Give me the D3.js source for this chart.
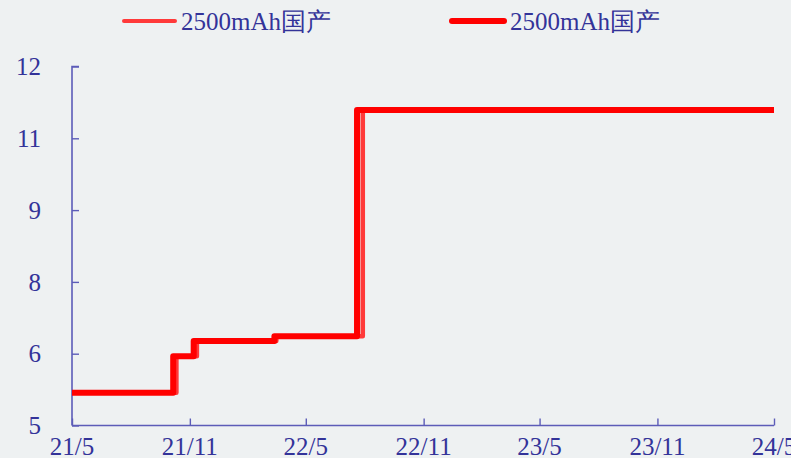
<!DOCTYPE html>
<html><head><meta charset="utf-8">
<script src="https://cdn.jsdelivr.net/npm/d3@7"></script>
<style>
html,body{margin:0;padding:0;background:#eef1f2;}
svg{display:block;}
text{font-family:"Liberation Serif","Times New Roman",serif;fill:#333399;}
</style></head>
<body>
<svg id="c" width="791" height="458"></svg>
<script>
const seriesNames = ["2500mAh国产", "2500mAh国产"];
// thin (lagging) series
const thinDates = ["2021-05-01","2021-10-11","2021-11-12","2022-03-16","2022-07-29","2024-05-01"];
const thinValues = [5.64, 6.35, 6.65, 6.74, 11.15, 11.15];
// thick series
const thickDates = ["2021-05-01","2021-10-06","2021-11-07","2022-03-13","2022-07-20","2024-05-01"];
const thickValues = [5.64, 6.35, 6.65, 6.74, 11.15, 11.15];
const yTicks = [5, 6.4, 7.8, 9.2, 10.6, 12];
const xTicks = ["2021-05-01","2021-11-01","2022-05-01","2022-11-01","2023-05-01","2023-11-01","2024-05-01"];

const parse = d3.timeParse("%Y-%m-%d");
const svg = d3.select("#c");
const x = d3.scaleTime().domain([parse("2021-05-01"), parse("2024-05-01")]).range([72, 774]);
const y = d3.scaleLinear().domain([5, 12]).range([425.5, 66.5]);

const axisColor = "#5c5cb8";
// y axis
const yAxis = svg.append("g").attr("transform","translate(72,0)")
  .call(d3.axisRight(y).tickValues(yTicks).tickSize(7).tickFormat(""));
yAxis.select(".domain").attr("stroke",axisColor).attr("stroke-width",1.6).attr("d","M0,425.5V66.5h7");
yAxis.selectAll(".tick line").attr("stroke",axisColor).attr("stroke-width",1.4);
svg.append("g").selectAll("text").data(yTicks).join("text")
  .attr("x",41).attr("y",d=>y(d)).attr("dy","0.35em").attr("text-anchor","end")
  .attr("font-size",25).text(d=>d3.format(".0f")(d));

// x axis
const xAxis = svg.append("g").attr("transform","translate(0,425.5)")
  .call(d3.axisTop(x).tickValues(xTicks.map(parse)).tickSize(7).tickFormat(""));
xAxis.select(".domain").attr("stroke",axisColor).attr("stroke-width",1.6).attr("d","M72,0H774");
xAxis.selectAll(".tick line").attr("stroke",axisColor).attr("stroke-width",1.4);
svg.append("g").selectAll("text").data(xTicks).join("text")
  .attr("x",d=>x(parse(d))).attr("y",455).attr("text-anchor","middle")
  .attr("font-size",25).text(d=>d3.timeFormat("%y/%-m")(parse(d)));

const line = d3.line().curve(d3.curveStepAfter).x(d=>x(d[0])).y(d=>y(d[1]));
const thinData = thinDates.map((d,i)=>[parse(d), thinValues[i]]);
const thickData = thickDates.map((d,i)=>[parse(d), thickValues[i]]);

svg.append("path").datum(thinData).attr("d",line).attr("fill","none")
  .attr("stroke","#ff3a3a").attr("stroke-width",4.5).attr("stroke-linejoin","round");
svg.append("path").datum(thickData).attr("d",line).attr("fill","none")
  .attr("stroke","#ff0000").attr("stroke-width",6).attr("stroke-linejoin","round");

// legend
const leg = [
  {x1:124, x2:175, tx:181, color:"#ff3a3a", w:4},
  {x1:452, x2:504, tx:510, color:"#ff0000", w:6}
];
leg.forEach((l,i)=>{
  svg.append("line").attr("x1",l.x1).attr("x2",l.x2).attr("y1",21).attr("y2",21)
    .attr("stroke",l.color).attr("stroke-width",l.w).attr("stroke-linecap","round");
  svg.append("text").attr("x",l.tx).attr("y",21).attr("dy","0.35em").attr("font-size",25)
    .text(seriesNames[i]);
});
</script>
</body></html>
